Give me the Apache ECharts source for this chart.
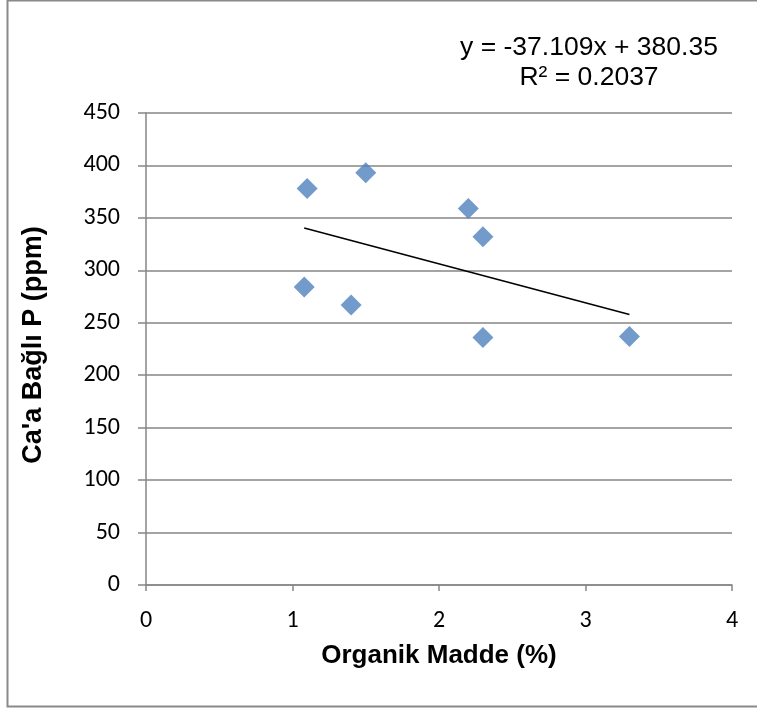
<!DOCTYPE html>
<html>
<head>
<meta charset="utf-8">
<script src="https://cdn.jsdelivr.net/npm/echarts@6/dist/echarts.min.js"></script>
<style>
  html, body { margin: 0; padding: 0; background: #fff; }
  #chart { width: 757px; height: 708px; }
</style>
</head>
<body>
<div id="chart"></div>
<script>
// Organic matter (%) vs Ca-bound phosphorus (ppm)
const organikMadde = [1.10, 1.50, 1.08, 1.40, 2.20, 2.30, 2.30, 3.30];
const caBagliP = [378, 393, 284, 267, 359, 332, 236, 237];

// Linear trendline as reported
const slope = -37.109;
const intercept = 380.35;
const r2 = 0.2037;

const xTicks = [0, 1, 2, 3, 4];
const yTicks = [0, 50, 100, 150, 200, 250, 300, 350, 400, 450];

const points = organikMadde.map((x, i) => [x, caBagliP[i]]);
const xMin = Math.min(...organikMadde);
const xMax = Math.max(...organikMadde);
const trend = [[xMin, slope * xMin + intercept], [xMax, slope * xMax + intercept]];

const chart = echarts.init(document.getElementById('chart'), null, { renderer: 'canvas' });

const gridColor = '#868686';
const tickFont = 'Carlito, "Liberation Sans", Arial, sans-serif';
const titleFont = '"Liberation Sans", Arial, sans-serif';

chart.setOption({
  animation: false,
  backgroundColor: '#ffffff',
  grid: { left: 146, right: 25, top: 113, bottom: 123, containLabel: false },
  xAxis: {
    type: 'value',
    min: xTicks[0],
    max: xTicks[xTicks.length - 1],
    interval: 1,
    name: 'Organik Madde (%)',
    nameLocation: 'middle',
    nameGap: 58,
    nameTextStyle: { fontFamily: titleFont, fontWeight: 'bold', fontSize: 26, color: '#000' },
    axisLine: { show: true, lineStyle: { color: gridColor, width: 1.5 } },
    axisTick: { show: true, inside: false, length: 6, lineStyle: { color: gridColor, width: 1.5 } },
    axisLabel: { fontFamily: tickFont, fontSize: 24, color: '#000', margin: 24 },
    splitLine: { show: false }
  },
  yAxis: {
    type: 'value',
    min: yTicks[0],
    max: yTicks[yTicks.length - 1],
    interval: 50,
    name: "Ca'a Bağlı P (ppm)",
    nameLocation: 'middle',
    nameGap: 99,
    nameRotate: 90,
    nameTextStyle: { fontFamily: titleFont, fontWeight: 'bold', fontSize: 27, color: '#000', padding: [0, 0, 0, 8] },
    axisLine: { show: true, lineStyle: { color: gridColor, width: 1.5 } },
    axisTick: { show: true, inside: false, length: 8, lineStyle: { color: gridColor, width: 1.5 } },
    axisLabel: { fontFamily: tickFont, fontSize: 24, color: '#000', margin: 26 },
    splitLine: { show: true, lineStyle: { color: gridColor, width: 1.5 } }
  },
  graphic: [
    {
      type: 'rect',
      shape: { x: 7.5, y: 0.5, width: 760, height: 706 },
      style: { fill: 'none', stroke: '#898989', lineWidth: 2 },
      silent: true,
      z: 0
    },
    {
      type: 'text',
      x: 589, y: 33,
      style: {
        text: 'y = ' + slope.toFixed(3) + 'x + ' + intercept.toFixed(2) + '\nR² = ' + r2.toFixed(4),
        fontFamily: titleFont,
        fontSize: 26.5,
        fill: '#000',
        align: 'center',
        verticalAlign: 'top',
        lineHeight: 30
      }
    }
  ],
  series: [
    {
      type: 'scatter',
      data: points,
      symbol: 'diamond',
      symbolSize: 21,
      itemStyle: { color: '#4F81BD' },
      z: 3
    },
    {
      type: 'line',
      data: trend,
      symbol: 'none',
      lineStyle: { color: '#000', width: 1.6 },
      z: 2
    }
  ]
});
</script>
</body>
</html>
